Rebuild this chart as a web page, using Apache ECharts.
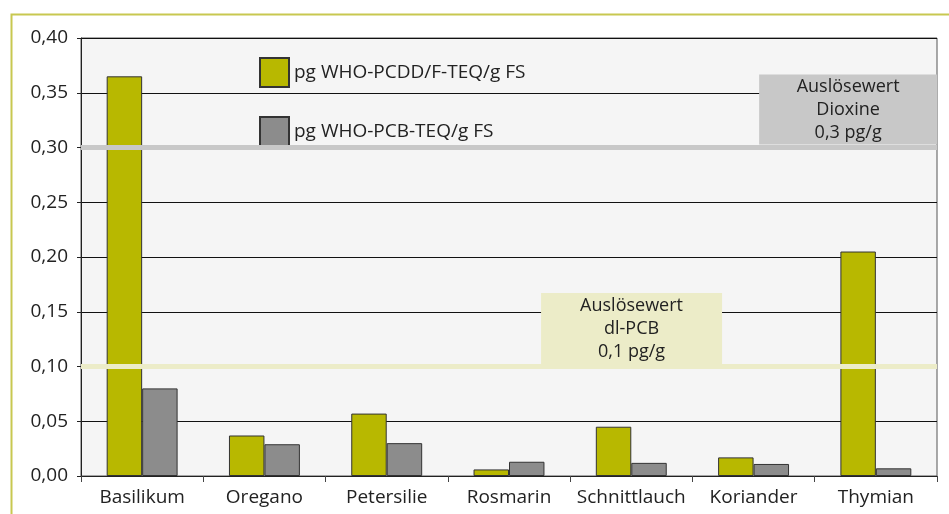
<!DOCTYPE html>
<html>
<head>
<meta charset="utf-8">
<script src="https://cdn.jsdelivr.net/npm/echarts@6/dist/echarts.min.js"></script>
<style>
  html, body { margin: 0; padding: 0; background: #fff; }
  #chart { width: 949px; height: 514px; }
</style>
</head>
<body>
<div id="chart"></div>
<script>
const categories = ['Basilikum', 'Oregano', 'Petersilie', 'Rosmarin', 'Schnittlauch', 'Koriander', 'Thymian']
const dioxinValues = [0.365, 0.037, 0.057, 0.006, 0.045, 0.017, 0.205]
const pcbValues = [0.080, 0.029, 0.030, 0.013, 0.012, 0.011, 0.007]
const seriesNames = ['pg WHO-PCDD/F-TEQ/g FS', 'pg WHO-PCB-TEQ/g FS']
const dioxinLimit = 0.3
const pcbLimit = 0.1
const dioxinLabel = 'Auslösewert\nDioxine\n0,3 pg/g'
const pcbLabel = 'Auslösewert\ndl-PCB\n0,1 pg/g'

const font = 'Open Sans'
const fmt = v => v.toFixed(2).replace('.', ',')

const myChart = echarts.init(document.getElementById('chart'))

const option = {
  animation: false,
  textStyle: { fontFamily: font },
  graphic: [
    {
      type: 'rect',
      left: 9,
      top: 12,
      shape: { width: 960, height: 600 },
      style: { fill: 'none', stroke: '#c8c850', lineWidth: 2 },
      z: -1
    }
  ],
  grid: {
    left: 81,
    right: 12,
    top: 38,
    bottom: 38,
    show: true,
    backgroundColor: '#f5f5f5',
    borderColor: '#555',
    borderWidth: 1
  },
  legend: {
    orient: 'vertical',
    left: 254,
    top: 52,
    itemWidth: 29,
    itemHeight: 29,
    itemGap: 28,
    icon: 'rect',
    textStyle: { fontFamily: font, fontSize: 19, color: '#222' },
    data: seriesNames
  },
  xAxis: {
    type: 'category',
    data: categories,
    axisLine: { lineStyle: { color: '#222' } },
    axisTick: { show: true, length: 6, lineStyle: { color: '#444' } },
    axisLabel: { fontFamily: font, fontSize: 19, color: '#222', margin: 12, interval: 0 }
  },
  yAxis: {
    type: 'value',
    min: 0,
    max: 0.4,
    interval: 0.05,
    axisLine: { show: true, lineStyle: { color: '#222' } },
    axisTick: { show: true, length: 4, lineStyle: { color: '#222' } },
    axisLabel: { fontFamily: font, fontSize: 19, color: '#222', margin: 13, formatter: fmt },
    splitLine: { lineStyle: { color: '#111', width: 1 } }
  },
  series: [
    {
      name: seriesNames[0],
      type: 'bar',
      data: dioxinValues,
      barCategoryGap: '42%',
      barGap: '0%',
      itemStyle: { color: '#b8b800', borderColor: '#333', borderWidth: 1 },
      markLine: {
        silent: true,
        symbol: 'none',
        label: { show: false },
        data: [
          { yAxis: dioxinLimit, lineStyle: { color: '#c8c8c8', width: 5, type: 'solid' } },
          { yAxis: pcbLimit, lineStyle: { color: '#ececc8', width: 5, type: 'solid' } }
        ]
      },
      markPoint: {
        silent: true,
        data: [
          {
            coord: ['Thymian', dioxinLimit],
            symbol: 'rect',
            symbolSize: [178, 70],
            symbolOffset: [-10, -38],
            itemStyle: { color: '#c8c8c8', borderWidth: 0 },
            label: {
              show: true,
              position: 'inside',
              formatter: dioxinLabel,
              fontFamily: font,
              fontSize: 18,
              lineHeight: 23,
              color: '#222',
              align: 'center'
            }
          },
          {
            coord: ['Schnittlauch', pcbLimit],
            symbol: 'rect',
            symbolSize: [181, 71],
            symbolOffset: [18, -38],
            itemStyle: { color: '#ececc8', borderWidth: 0 },
            label: {
              show: true,
              position: 'inside',
              formatter: pcbLabel,
              fontFamily: font,
              fontSize: 18,
              lineHeight: 23,
              color: '#222',
              align: 'center'
            }
          }
        ]
      }
    },
    {
      name: seriesNames[1],
      type: 'bar',
      data: pcbValues,
      itemStyle: { color: '#8c8c8c', borderColor: '#333', borderWidth: 1 }
    }
  ]
}

myChart.setOption(option)
</script>
</body>
</html>
